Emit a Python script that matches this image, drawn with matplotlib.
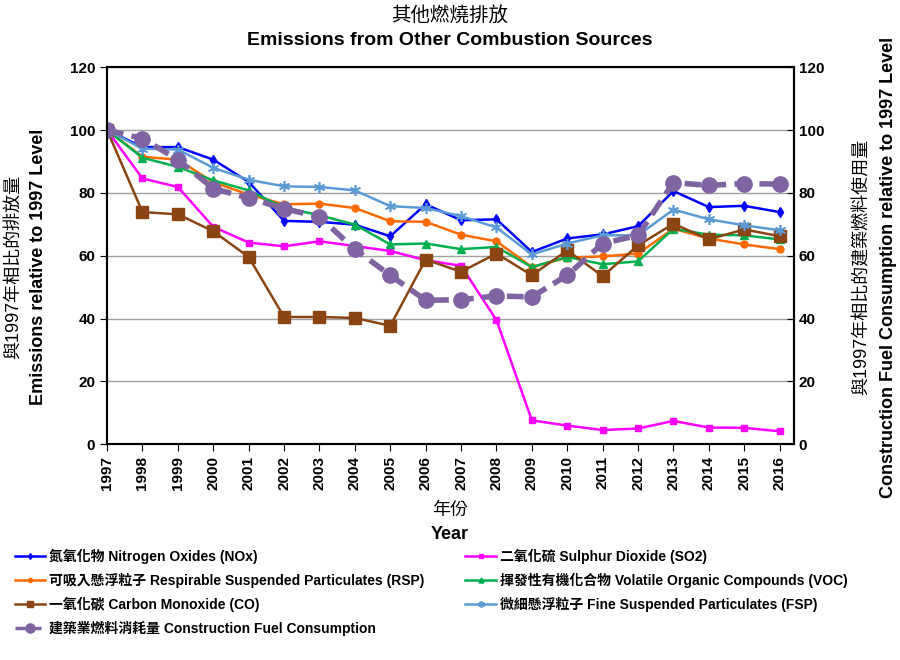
import matplotlib
matplotlib.use("Agg")
from matplotlib import pyplot as plt

plt.rcParams['font.family'] = ['Liberation Sans', 'Noto Sans CJK TC', 'DejaVu Sans']

# données (indice 1997 = 100)
years = list(range(1997, 2017))
nox = [100, 94.6, 94.6, 90.6, 83.5, 71.1, 70.8, 69.9, 66.2, 76.4,
       71.3, 71.6, 61.2, 65.5, 66.8, 69.4, 80.6, 75.5, 75.9, 73.9]
so2 = [100, 84.6, 81.9, 69.2, 64.2, 63.0, 64.6, 63.1, 61.5, 58.6,
       56.8, 39.5, 7.6, 5.9, 4.5, 5.0, 7.4, 5.3, 5.2, 4.1]
rsp = [100, 91.5, 90.6, 83.4, 79.5, 76.4, 76.6, 75.2, 71.0, 70.8,
       66.7, 64.6, 56.4, 59.4, 59.8, 60.7, 68.6, 65.5, 63.6, 62.1]
voc = [100, 91.2, 88.3, 84.0, 80.8, 75.3, 72.9, 69.9, 63.6, 63.9,
       62.1, 62.8, 56.4, 59.6, 57.3, 58.2, 68.6, 66.7, 66.5, 65.2]
co = [100, 73.9, 73.2, 67.8, 59.6, 40.5, 40.5, 40.2, 37.7, 58.8,
      54.9, 60.7, 53.8, 61.7, 53.5, 63.3, 70.2, 65.2, 68.4, 66.2]
fsp = [100, 94.1, 93.8, 88.0, 84.2, 82.1, 81.9, 80.8, 75.8, 75.2,
       72.6, 69.0, 60.4, 63.9, 66.5, 66.5, 74.7, 71.6, 69.7, 68.1]
fuel = [100, 97.3, 90.6, 81.4, 78.4, 75.0, 72.4, 62.0, 53.8, 45.8,
        46.0, 47.2, 46.9, 53.8, 63.9, 66.5, 83.3, 82.4, 83.0, 82.8]

labels = {
    'nox': '氮氧化物 Nitrogen Oxides (NOx)',
    'so2': '二氧化硫 Sulphur Dioxide (SO2)',
    'rsp': '可吸入懸浮粒子 Respirable Suspended Particulates (RSP)',
    'voc': '揮發性有機化合物 Volatile Organic Compounds (VOC)',
    'co': '一氧化碳 Carbon Monoxide (CO)',
    'fsp': '微細懸浮粒子 Fine Suspended Particulates (FSP)',
    'fuel': '建築業燃料消耗量 Construction Fuel Consumption',
}

fig = plt.figure(figsize=(9, 6.6), dpi=100)
ax = fig.add_axes([0.119, 0.327, 0.763, 0.571])

ax.plot(years, nox, color='#0000FF', lw=1.8, marker='d', ms=5, label=labels['nox'])
ax.plot(years, so2, color='#FF00FF', lw=1.8, marker='s', ms=5, label=labels['so2'])
ax.plot(years, rsp, color='#FF6A00', lw=1.8, marker='o', ms=5, label=labels['rsp'])
ax.plot(years, voc, color='#00B050', lw=1.8, marker='^', ms=6, label=labels['voc'])
ax.plot(years, co, color='#8B4513', lw=1.8, marker='s', ms=8, label=labels['co'])
ax.plot(years, fsp, color='#5B9BD5', lw=1.8, marker=(6, 2, 0), ms=8, mew=1.2, label=labels['fsp'])

# axe secondaire pour le carburant
ax2 = ax.twinx()
ax2.plot(years, fuel, color='#8064A2', lw=4, ls=(0, (3, 1.5)), marker='o', ms=11, label=labels['fuel'])

for a in (ax, ax2):
    a.set_ylim(0, 120)
    a.set_yticks(range(0, 121, 20))
    a.tick_params(axis='y', labelsize=11, length=5)
    for t in a.get_yticklabels():
        t.set_fontweight('bold')
    for s in a.spines.values():
        s.set_linewidth(1.5)
ax2.tick_params(axis='y', direction='in')

ax.set_xlim(1997, 2016.4)
ax.set_xticks(years)
ax.set_xticklabels([str(y) for y in years], rotation=90, fontsize=11, fontweight='bold')
ax.tick_params(axis='x', length=5)
ax.grid(axis='y', color='#A0A0A0', lw=1)
ax.set_axisbelow(True)

fig.text(0.5, 0.227, '年份', ha='center', va='center', fontsize=13)
fig.text(0.5, 0.19, 'Year', ha='center', va='center', fontsize=13, fontweight='bold')

fig.text(0.015, 0.595, '與1997年相比的排放量', rotation=90, ha='center', va='center', fontsize=13)
fig.text(0.043, 0.595, 'Emissions relative to 1997 Level', rotation=90, ha='center',
         va='center', fontsize=13, fontweight='bold')
fig.text(0.958, 0.595, '與1997年相比的建築燃料使用量', rotation=90, ha='center', va='center', fontsize=13)
fig.text(0.987, 0.595, 'Construction Fuel Consumption relative to 1997 Level', rotation=90,
         ha='center', va='center', fontsize=13, fontweight='bold')

fig.text(0.5, 0.977, '其他燃燒排放', ha='center', va='center', fontsize=14)
fig.text(0.5, 0.938, 'Emissions from Other Combustion Sources', ha='center', va='center',
         fontsize=14, fontweight='bold')

# légende en deux colonnes, placée à la main
h1, l1 = ax.get_legend_handles_labels()
h2, l2 = ax2.get_legend_handles_labels()
handles = h1 + h2
labs = l1 + l2
col1 = [0, 2, 4, 6]
col2 = [1, 3, 5]
for idx, x0 in ((col1, 0.01), (col2, 0.511)):
    leg = fig.legend([handles[i] for i in idx], [labs[i] for i in idx], ncol=1,
                     loc='upper left', bbox_to_anchor=(x0, 0.177), frameon=False,
                     prop={'size': 10, 'weight': 'bold'},
                     handlelength=2.2, labelspacing=0.65, handletextpad=0.3,
                     markerscale=0.6, borderaxespad=0)
    for line in leg.get_lines():
        line.set_linewidth(min(line.get_linewidth(), 2.5))

fig.savefig('out.png', dpi=100)
